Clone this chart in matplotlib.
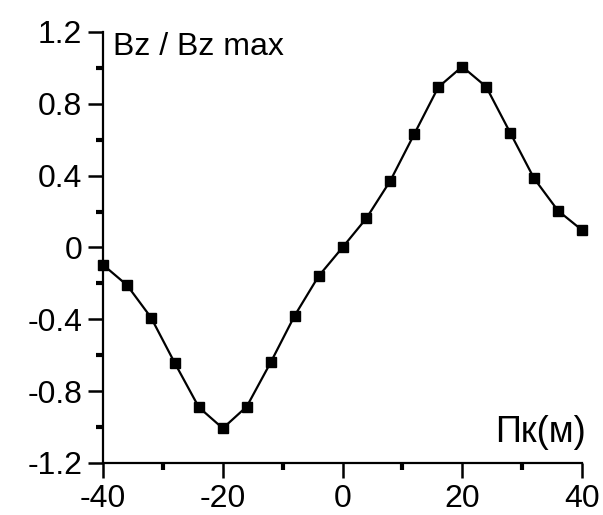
import numpy as np
import matplotlib
matplotlib.use('Agg')
from matplotlib import pyplot as plt
from matplotlib.ticker import MultipleLocator

# picket position (m) and normalised Bz
pk = np.array([-40, -36, -32, -28, -24, -20, -16, -12, -8, -4, 0,
               4, 8, 12, 16, 20, 24, 28, 32, 36, 40])
bz = np.array([-0.097, -0.21, -0.39, -0.645, -0.89, -1.007, -0.886, -0.64, -0.38, -0.16, 0.0,
               0.163, 0.372, 0.632, 0.892, 1.007, 0.895, 0.64, 0.385, 0.205, 0.097])

xticks = [-40, -20, 0, 20, 40]
xtick_labels = ['-40', '-20', '0', '20', '40']
yticks = [-1.2, -0.8, -0.4, 0, 0.4, 0.8, 1.2]
ytick_labels = ['-1.2', '-0.8', '-0.4', '0', '0.4', '0.8', '1.2']

plt.rcParams['font.family'] = ['Liberation Sans', 'DejaVu Sans']
plt.rcParams['axes.unicode_minus'] = False

fig = plt.figure(figsize=(6.03, 5.15), dpi=100)
ax = fig.add_axes([0.171, 0.101, 0.794, 0.837])

ax.plot(pk, bz, color='black', lw=1.6, marker='s', ms=7.5, clip_on=False)

ax.set_xlim(-40, 40)
ax.set_ylim(-1.2, 1.2)
ax.set_xticks(xticks)
ax.set_xticklabels(xtick_labels)
ax.set_yticks(yticks)
ax.set_yticklabels(ytick_labels)
ax.xaxis.set_minor_locator(MultipleLocator(10))
ax.yaxis.set_minor_locator(MultipleLocator(0.2))

for side in ['top', 'right']:
    ax.spines[side].set_visible(False)
for side in ['left', 'bottom']:
    ax.spines[side].set_linewidth(1.6)

ax.tick_params(which='major', direction='out', length=11, width=1.8,
               labelsize=23, pad=4)
ax.tick_params(which='minor', direction='out', length=5, width=3)

ax.text(0.02, 1.0, 'Bz / Bz max', transform=ax.transAxes,
        fontsize=23, ha='left', va='top')
ax.text(1.008, 0.03, 'Пк(м)', transform=ax.transAxes,
        fontsize=26, ha='right', va='bottom')

fig.savefig('out.png', dpi=100)
